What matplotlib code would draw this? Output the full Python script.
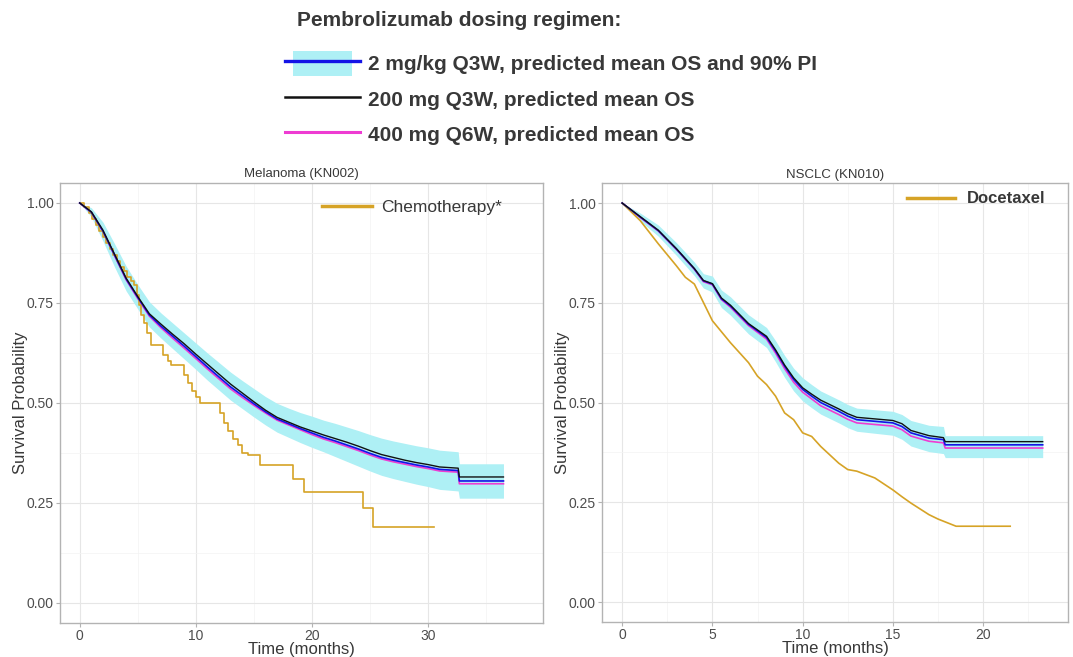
"""
Pembrolizumab dosing regimens: predicted OS vs comparator, KN002 / KN010
"""
import matplotlib
matplotlib.use('Agg')
import matplotlib.pyplot as plt
import matplotlib.patches as mpatches
from matplotlib.lines import Line2D
from matplotlib.legend_handler import HandlerPatch, HandlerTuple

plt.rcParams['font.family'] = ['Liberation Sans', 'DejaVu Sans']

# ── colours ────────────────────────────────────────────────────────────────────
BAND    = '#aef0f5'
BLUE    = '#1414e6'
BLACK   = '#111111'
MAGENTA = '#ee3cd2'
GOLD    = '#d6a326'
TEXT    = '#383838'
TICK    = '#4d4d4d'

# ── data: melanoma (KN002) ─────────────────────────────────────────────────────
mel_t = [0, 1, 2, 3, 4, 5, 6, 7, 8, 9, 10, 11, 12, 13, 14, 15, 16, 17, 18, 19,
         20, 21, 22, 23, 24, 25, 26, 27, 28, 29, 30, 31, 32.6, 32.7, 36.5]
mel_blue = [1.0, 0.977, 0.93, 0.87, 0.81, 0.764, 0.72, 0.692, 0.667, 0.642,
            0.616, 0.590, 0.565, 0.540, 0.519, 0.498, 0.478, 0.460, 0.448, 0.436,
            0.425, 0.414, 0.405, 0.395, 0.385, 0.374, 0.364, 0.357, 0.351, 0.345,
            0.340, 0.334, 0.331, 0.305, 0.305]
mel_black = [1.0, 0.978, 0.932, 0.872, 0.812, 0.766, 0.723, 0.697, 0.672, 0.648,
             0.622, 0.597, 0.572, 0.547, 0.525, 0.503, 0.482, 0.464, 0.452, 0.440,
             0.430, 0.420, 0.411, 0.402, 0.392, 0.381, 0.371, 0.364, 0.357, 0.351,
             0.346, 0.340, 0.337, 0.315, 0.315]
mel_magenta = [1.0, 0.976, 0.928, 0.868, 0.808, 0.761, 0.717, 0.688, 0.662, 0.637,
               0.611, 0.585, 0.560, 0.535, 0.514, 0.494, 0.475, 0.457, 0.445, 0.433,
               0.421, 0.410, 0.401, 0.391, 0.381, 0.370, 0.360, 0.353, 0.347, 0.341,
               0.336, 0.330, 0.327, 0.298, 0.298]
mel_lo = [1.0, 0.965, 0.905, 0.84, 0.78, 0.735, 0.69, 0.662, 0.636, 0.61,
          0.584, 0.557, 0.532, 0.507, 0.486, 0.465, 0.445, 0.427, 0.414, 0.401,
          0.389, 0.378, 0.366, 0.354, 0.342, 0.330, 0.319, 0.311, 0.304, 0.297,
          0.291, 0.284, 0.280, 0.262, 0.262]
mel_hi = [1.0, 0.988, 0.952, 0.898, 0.842, 0.796, 0.753, 0.725, 0.700, 0.675,
          0.650, 0.625, 0.601, 0.577, 0.556, 0.536, 0.516, 0.499, 0.487, 0.476,
          0.467, 0.457, 0.449, 0.440, 0.431, 0.421, 0.412, 0.405, 0.399, 0.393,
          0.388, 0.382, 0.378, 0.348, 0.348]

mel_chemo_t = [0, 0.4, 0.8, 1.1, 1.4, 1.7, 2.0, 2.3, 2.6, 2.9, 3.2, 3.5, 3.8,
               4.1, 4.4, 4.7, 4.9, 5.1, 5.3, 5.5, 5.8, 6.1, 7.2, 7.6, 7.9, 9.0,
               9.3, 9.7, 10.0, 10.4, 12.1, 12.4, 12.8, 13.2, 13.6, 14.0, 14.5,
               15.5, 18.4, 19.3, 24.4, 25.3, 30.5]
mel_chemo = [1.0, 0.99, 0.975, 0.96, 0.945, 0.93, 0.915, 0.90, 0.885, 0.87,
             0.855, 0.84, 0.83, 0.815, 0.805, 0.795, 0.77, 0.745, 0.72, 0.70,
             0.675, 0.645, 0.62, 0.605, 0.595, 0.57, 0.55, 0.53, 0.515, 0.50,
             0.475, 0.45, 0.43, 0.41, 0.395, 0.375, 0.37, 0.345, 0.31, 0.277,
             0.237, 0.19, 0.19]

# ── data: NSCLC (KN010) ────────────────────────────────────────────────────────
ns_t = [0, 1, 2, 3, 4, 4.5, 5, 5.5, 6, 7, 8, 8.5, 9, 9.5, 10, 10.5, 11, 12,
        12.5, 13, 14, 15, 15.5, 16, 17, 17.8, 17.9, 23.3]
ns_blue = [1.0, 0.965, 0.931, 0.885, 0.835, 0.805, 0.797, 0.760, 0.742, 0.696,
           0.663, 0.629, 0.591, 0.558, 0.533, 0.516, 0.500, 0.478, 0.466, 0.457,
           0.453, 0.449, 0.440, 0.424, 0.411, 0.407, 0.394, 0.394]
ns_black = [1.0, 0.966, 0.932, 0.886, 0.836, 0.806, 0.798, 0.762, 0.744, 0.698,
            0.666, 0.632, 0.594, 0.562, 0.537, 0.521, 0.506, 0.484, 0.472, 0.463,
            0.459, 0.455, 0.447, 0.430, 0.417, 0.412, 0.402, 0.402]
ns_magenta = [1.0, 0.964, 0.930, 0.884, 0.834, 0.803, 0.795, 0.758, 0.739, 0.693,
              0.659, 0.624, 0.585, 0.551, 0.526, 0.509, 0.492, 0.470, 0.458, 0.449,
              0.445, 0.441, 0.432, 0.416, 0.403, 0.399, 0.386, 0.386]
ns_lo = [1.0, 0.955, 0.917, 0.869, 0.818, 0.787, 0.777, 0.738, 0.719, 0.672,
         0.638, 0.602, 0.563, 0.529, 0.504, 0.487, 0.471, 0.449, 0.437, 0.428,
         0.423, 0.418, 0.408, 0.391, 0.377, 0.372, 0.362, 0.362]
ns_hi = [1.0, 0.975, 0.945, 0.901, 0.852, 0.823, 0.817, 0.782, 0.765, 0.720,
         0.688, 0.655, 0.618, 0.586, 0.562, 0.545, 0.529, 0.507, 0.495, 0.486,
         0.482, 0.478, 0.470, 0.455, 0.443, 0.440, 0.417, 0.417]

ns_doc_t = [0, 1, 2, 3, 3.5, 4, 4.5, 5, 6, 7, 7.5, 8, 8.5, 9, 9.5, 10, 10.5, 11,
            12, 12.5, 13, 14, 15, 15.5, 16, 17, 17.5, 18.5, 21.5]
ns_doc = [1.0, 0.956, 0.898, 0.843, 0.814, 0.797, 0.751, 0.705, 0.65, 0.6, 0.566,
          0.545, 0.516, 0.474, 0.457, 0.424, 0.415, 0.39, 0.348, 0.332, 0.328,
          0.311, 0.281, 0.264, 0.248, 0.219, 0.208, 0.19, 0.19]

# ── labels ─────────────────────────────────────────────────────────────────────
legend_title = "Pembrolizumab dosing regimen:"
regimen_labels = ["2 mg/kg Q3W, predicted mean OS and 90% PI",
                  "200 mg Q3W, predicted mean OS",
                  "400 mg Q6W, predicted mean OS"]
y_ticks = [0.0, 0.25, 0.5, 0.75, 1.0]
y_ticklabels = ['0.00', '0.25', '0.50', '0.75', '1.00']

# ── figure ─────────────────────────────────────────────────────────────────────
fig = plt.figure(figsize=(10.73, 6.57), dpi=100)
fig.patch.set_facecolor('white')
ax1 = fig.add_axes([0.0559, 0.0518, 0.4501, 0.6697])
ax2 = fig.add_axes([0.5610, 0.0533, 0.4343, 0.6680])


def style_axes(ax, xmajor, xminor, xlim, title):
    ax.set_xlim(*xlim)
    ax.set_ylim(-0.05, 1.05)
    ax.set_xticks(xmajor)
    ax.set_xticks(xminor, minor=True)
    ax.set_yticks(y_ticks)
    ax.set_yticklabels(y_ticklabels)
    ax.set_yticks([0.125, 0.375, 0.625, 0.875], minor=True)
    ax.grid(which='major', color='#e6e6e6', linewidth=0.8, zorder=0)
    ax.grid(which='minor', color='#f3f3f3', linewidth=0.5, zorder=0)
    ax.set_axisbelow(True)
    for s in ax.spines.values():
        s.set_color('#b3b3b3')
        s.set_linewidth(1.0)
    ax.tick_params(which='major', length=3, width=0.8, color='#b3b3b3',
                   labelsize=10, labelcolor=TICK, pad=1.5)
    ax.tick_params(which='minor', length=0)
    ax.set_xlabel("Time (months)", fontsize=12, color=TEXT, labelpad=-1)
    ax.set_ylabel("Survival Probability", fontsize=12, color=TEXT, labelpad=-1)
    ax.set_title(title, fontsize=9.5, color=TEXT, pad=4)


def draw_panel(ax, t, lo, hi, blue, black, mag):
    ax.fill_between(t, lo, hi, color=BAND, linewidth=0, zorder=2)
    ax.plot(t, mag, color=MAGENTA, lw=1.2, zorder=3)
    ax.plot(t, blue, color=BLUE, lw=1.2, zorder=4)
    ax.plot(t, black, color=BLACK, lw=1.0, zorder=5)


# melanoma
draw_panel(ax1, mel_t, mel_lo, mel_hi, mel_blue, mel_black, mel_magenta)
ax1.step(mel_chemo_t, mel_chemo, where='post', color=GOLD, lw=1.2, zorder=3,
         label='Chemotherapy*')
style_axes(ax1, [0, 10, 20, 30], [5, 15, 25, 35], (-1.7, 39.9), "Melanoma (KN002)")
leg1 = ax1.legend(loc='center right', bbox_to_anchor=(0.934, 0.945), frameon=False,
                  fontsize=12.5, handlelength=2.9, handletextpad=0.55, borderpad=0,
                  labelcolor=TEXT)
for line in leg1.get_lines():
    line.set_linewidth(2.5)

# NSCLC
draw_panel(ax2, ns_t, ns_lo, ns_hi, ns_blue, ns_black, ns_magenta)
ax2.plot(ns_doc_t, ns_doc, color=GOLD, lw=1.2, zorder=3, label='Docetaxel')
style_axes(ax2, [0, 5, 10, 15, 20], [2.5, 7.5, 12.5, 17.5, 22.5], (-1.12, 24.7),
           "NSCLC (KN010)")
leg2 = ax2.legend(loc='center right', bbox_to_anchor=(0.97, 0.964), frameon=False,
                  handlelength=2.9, handletextpad=0.7, borderpad=0,
                  prop={'weight': 'bold', 'size': 12}, labelcolor=TEXT)
for line in leg2.get_lines():
    line.set_linewidth(2.5)


# ── top legend ─────────────────────────────────────────────────────────────────
class BandHandler(HandlerPatch):
    def create_artists(self, legend, orig_handle, xdescent, ydescent, width,
                       height, fontsize, trans):
        r = mpatches.Rectangle((-xdescent + 0.11 * width, -ydescent - 0.05 * height),
                               0.79 * width, 1.1 * height, facecolor=BAND,
                               edgecolor='none', transform=trans)
        return [r]


band_h = mpatches.Patch(color=BAND)
h1 = (band_h, Line2D([], [], color=BLUE, lw=2.4))
h2 = Line2D([], [], color=BLACK, lw=1.8)
h3 = Line2D([], [], color=MAGENTA, lw=2.2)
fig.legend([h1, h2, h3], regimen_labels, loc='upper left',
           bbox_to_anchor=(0.2656, 0.921), frameon=False, borderpad=0,
           borderaxespad=0, handlelength=3.6, handleheight=1.3, labelspacing=0.62,
           handletextpad=0.4,
           handler_map={mpatches.Patch: BandHandler(),
                        tuple: HandlerTuple(ndivide=1)},
           prop={'weight': 'bold', 'size': 15}, labelcolor=TEXT)
fig.text(0.2768, 1 - 21 / 657, legend_title, fontsize=15, fontweight='bold',
         color=TEXT, ha='left', va='center')

plt.savefig('out.png', dpi=100, facecolor='white')
plt.close()
print("saved")
